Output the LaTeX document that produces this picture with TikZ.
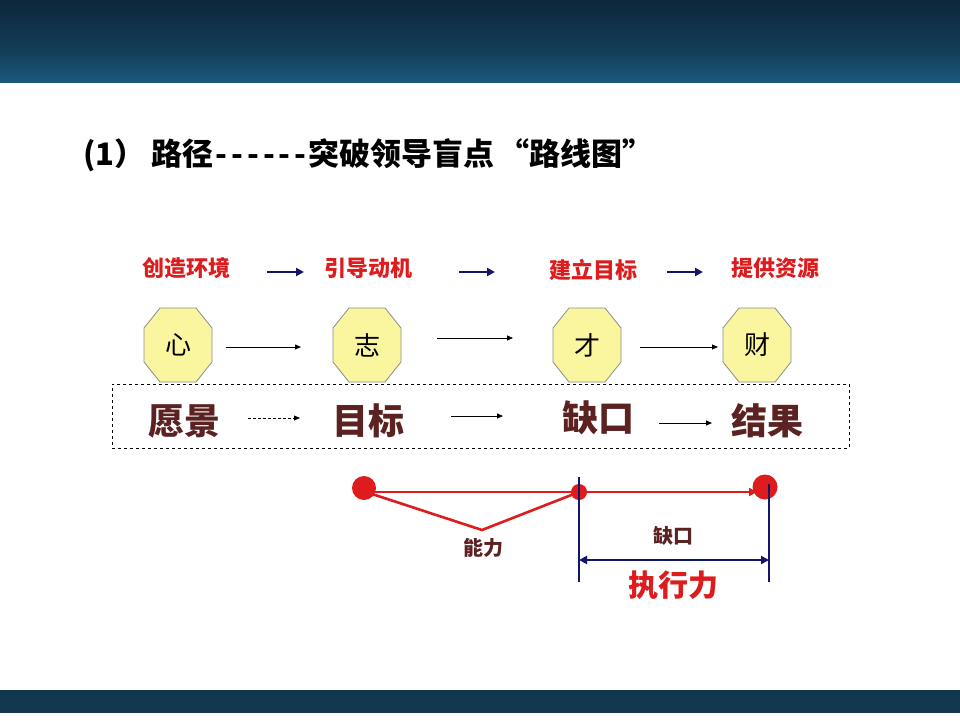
\documentclass[tikz,border=0pt]{standalone}
\usepackage{fontspec}
\setmainfont{Noto Sans CJK SC}
\usetikzlibrary{shapes.geometric,arrows.meta}
\definecolor{redc}{RGB}{222,28,30}
\definecolor{brownc}{RGB}{92,34,34}
\definecolor{navyc}{RGB}{18,22,105}
\definecolor{octfill}{RGB}{250,246,160}
\definecolor{octline}{RGB}{140,140,140}
\definecolor{barTop}{RGB}{13,38,58}
\definecolor{barMid}{RGB}{20,62,90}
\definecolor{barBot}{RGB}{26,90,125}
\definecolor{barLow}{RGB}{20,55,80}
\newcommand{\hy}{\mbox{-}\hspace{4pt}}
\newcommand{\octat}[1]{%
  \draw[draw=octline, fill=octfill, line width=0.8pt]
    ([shift={(-18,-37)}]#1.center) -- ([shift={(18,-37)}]#1.center) --
    ([shift={(34,-17)}]#1.center) -- ([shift={(34,17)}]#1.center) --
    ([shift={(18,37)}]#1.center) -- ([shift={(-18,37)}]#1.center) --
    ([shift={(-34,17)}]#1.center) -- ([shift={(-34,-17)}]#1.center) -- cycle;}
\begin{document}
\begin{tikzpicture}[x=1pt,y=-1pt,
  redlbl/.style={text=redc, font=\fontsize{22}{22}\selectfont\bfseries, inner sep=0},
  octtext/.style={inner sep=0, font=\fontsize{26}{26}\selectfont},
  bigword/.style={text=brownc, font=\fontsize{36}{36}\selectfont\bfseries, inner sep=0},
  smallword/.style={text=brownc, font=\fontsize{20}{20}\selectfont\bfseries, inner sep=0},
  navyarr/.style={-{Triangle[length=8pt,width=8pt]}, navyc, line width=2.8pt},
  blkarr/.style={-{Triangle[length=6pt,width=5pt]}, black, line width=0.8pt},
  redline/.style={redc, line width=2.6pt},
  navyline/.style={navyc, line width=2.6pt}]
\useasboundingbox (0,0) rectangle (960,720);
\fill[white] (0,0) rectangle (960,720);
\shade[top color=barTop, bottom color=barMid] (0,0) rectangle (960,52);
\shade[top color=barMid, bottom color=barBot] (0,52) rectangle (960,82);
\fill[barLow] (0,690) rectangle (960,713);

\node[anchor=west, inner sep=0, font=\fontsize{31}{31}\selectfont\bfseries] (title) at (83,155) {(1）\hspace{6pt}路径\hspace{2pt}\hy\hy\hy\hy\hy\mbox{-}\hspace{2pt}突破领导盲点\hspace{4pt}“路线图”};

% red labels
\node[redlbl] (r1) at (186,268) {创造环境};
\node[redlbl] (r2) at (368,268) {引导动机};
\node[redlbl] (r3) at (593,270) {建立目标};
\node[redlbl] (r4) at (775,268) {提供资源};
\coordinate (na1s) at (267,272); \coordinate (na1e) at (304,272);
\coordinate (na2s) at (459,272); \coordinate (na2e) at (495,272);
\coordinate (na3s) at (667,272); \coordinate (na3e) at (703,272);
\draw[navyarr] (na1s) -- (na1e);
\draw[navyarr] (na2s) -- (na2e);
\draw[navyarr] (na3s) -- (na3e);

% octagons
\node[octtext] (o1) at (178,345) {};
\node[octtext] (o2) at (367,345) {};
\node[octtext] (o3) at (587,345) {};
\node[octtext] (o4) at (757,345) {};
\octat{o1}\octat{o2}\octat{o3}\octat{o4}
\node[octtext] (t1) at (o1) {心};
\node[octtext] (t2) at (o2) {志};
\node[octtext] (t3) at (o3) {才};
\node[octtext] (t4) at (o4) {财};
\coordinate (a1s) at (226,347); \coordinate (a1e) at (301,347);
\coordinate (a2s) at (437,338); \coordinate (a2e) at (513,338);
\coordinate (a3s) at (640,347); \coordinate (a3e) at (718,347);
\draw[blkarr] (a1s) -- (a1e);
\draw[blkarr] (a2s) -- (a2e);
\draw[blkarr] (a3s) -- (a3e);

% dashed box and words
\node[draw, dashed, line width=0.8pt, minimum width=737pt, minimum height=64pt, inner sep=0] (box) at (480.5,416) {};
\node[bigword] (w1) at (184,421) {愿景};
\node[bigword] (w2) at (368,421) {目标};
\node[bigword] (w3) at (598,418) {缺口};
\node[bigword] (w4) at (767,421) {结果};
\coordinate (b1s) at (248,418); \coordinate (b1e) at (300,418);
\coordinate (b2s) at (451,416); \coordinate (b2e) at (503,416);
\coordinate (b3s) at (659,423); \coordinate (b3e) at (712,423);
\draw[blkarr, densely dashed] (b1s) -- (b1e);
\draw[blkarr] (b2s) -- (b2e);
\draw[blkarr] (b3s) -- (b3e);

% red path
\node[circle, fill=redc, minimum size=24pt, inner sep=0] (d1) at (364,488) {};
\node[circle, fill=redc, minimum size=16pt, inner sep=0] (d2) at (579,492) {};
\node[circle, fill=redc, minimum size=25pt, inner sep=0] (d3) at (765,487) {};
\coordinate (vtip) at (482,530);
\coordinate (hl) at (372,492);
\coordinate (vl) at (372,494);
\coordinate (ae) at (757,492);
\draw[redline] (hl) -- (d2.center);
\draw[redline, line join=miter] (vl) -- (vtip) -- (d2.center);
\draw[redline, -{Triangle[length=8pt,width=8pt]}] (d2.center) -- (ae);
\node[smallword] (nl) at (483,548) {能力};

% navy dimension
\coordinate (v1t) at (579,477); \coordinate (v1b) at (579,582);
\coordinate (v2t) at (769,484); \coordinate (v2b) at (769,582);
\draw[navyline] (v1t) -- (v1b);
\draw[navyline] (v2t) -- (v2b);
\coordinate (da) at (579,560); \coordinate (db) at (769,560);
\draw[navyc, line width=2pt, {Triangle[length=8pt,width=8pt]}-{Triangle[length=8pt,width=8pt]}] (da) -- (db);
\node[smallword] (gap) at (673,536) {缺口};
\node[text=redc, font=\fontsize{30}{30}\selectfont\bfseries, inner sep=0] (exec) at (673,585) {执行力};
\end{tikzpicture}
\end{document}
